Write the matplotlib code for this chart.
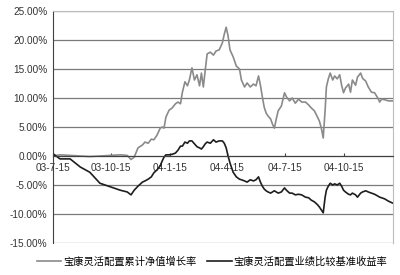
import matplotlib
matplotlib.use('Agg')
import matplotlib.pyplot as plt
import matplotlib.dates as mdates
import matplotlib.ticker as mticker
import pandas as pd

plt.rcParams['font.family'] = ['Liberation Sans', 'Noto Sans CJK SC']

dates = [
    '2003-07-15', '2003-07-26', '2003-08-11', '2003-08-27', '2003-09-11', '2003-09-27',
    '2003-10-13', '2003-10-29', '2003-11-09', '2003-11-15', '2003-11-20', '2003-11-26',
    '2003-12-03', '2003-12-07', '2003-12-12', '2003-12-17', '2003-12-21', '2003-12-26',
    '2003-12-31', '2004-01-03', '2004-01-06', '2004-01-09', '2004-01-14', '2004-01-19',
    '2004-01-24', '2004-01-28', '2004-02-01', '2004-02-04', '2004-02-08', '2004-02-12',
    '2004-02-15', '2004-02-19', '2004-02-23', '2004-02-27', '2004-03-02', '2004-03-05',
    '2004-03-08', '2004-03-11', '2004-03-14', '2004-03-19', '2004-03-24', '2004-03-28',
    '2004-04-02', '2004-04-07', '2004-04-10', '2004-04-13', '2004-04-16', '2004-04-19',
    '2004-04-24', '2004-04-29', '2004-05-04', '2004-05-07', '2004-05-12', '2004-05-16',
    '2004-05-21', '2004-05-26', '2004-05-30', '2004-06-03', '2004-06-06', '2004-06-09',
    '2004-06-12', '2004-06-15', '2004-06-18', '2004-06-22', '2004-06-25', '2004-06-28',
    '2004-07-01', '2004-07-04', '2004-07-09', '2004-07-14', '2004-07-17', '2004-07-22',
    '2004-07-26', '2004-07-31', '2004-08-05', '2004-08-10', '2004-08-16', '2004-08-21',
    '2004-08-25', '2004-08-30', '2004-09-04', '2004-09-07', '2004-09-10', '2004-09-13',
    '2004-09-16', '2004-09-18', '2004-09-21', '2004-09-24', '2004-09-28', '2004-10-01',
    '2004-10-05', '2004-10-09', '2004-10-12', '2004-10-15', '2004-10-18', '2004-10-23',
    '2004-10-26', '2004-10-29', '2004-11-03', '2004-11-06', '2004-11-11', '2004-11-14',
    '2004-11-19', '2004-11-23', '2004-11-28', '2004-12-03', '2004-12-08', '2004-12-11',
    '2004-12-14', '2004-12-19', '2004-12-25', '2004-12-31',
]

# 宝康灵活配置累计净值增长率 (%)
nav_growth = [
    0.0, 0.2, 0.1, 0.0, -0.1, 0.0,
    0.1, 0.2, 0.1, -0.6, -0.2, 1.4,
    1.9, 2.4, 2.2, 2.9, 2.8, 3.6,
    4.8, 5.0, 4.8, 6.7, 7.9, 8.3,
    9.0, 9.3, 9.0, 11.0, 12.8, 12.1,
    13.1, 15.2, 13.1, 14.0, 12.1, 14.3,
    11.9, 14.8, 17.6, 17.9, 17.4, 18.1,
    18.3, 19.5, 21.0, 22.2, 20.7, 18.3,
    17.1, 15.5, 15.0, 13.1, 11.9, 12.6,
    11.9, 12.4, 12.1, 13.8, 12.2, 10.2,
    8.4, 7.4, 6.9, 6.4, 5.5, 4.8,
    6.4, 7.8, 8.6, 10.9, 10.2, 9.5,
    10.0, 9.1, 9.8, 9.3, 9.3, 8.8,
    8.3, 7.8, 6.7, 6.0, 4.8, 3.1,
    7.9, 11.9, 13.3, 14.3, 13.1, 13.8,
    13.3, 14.0, 12.2, 10.9, 11.7, 12.4,
    11.0, 13.1, 12.2, 13.6, 14.3, 13.4,
    12.9, 11.9, 11.0, 10.9, 10.0, 9.3,
    9.8, 9.7, 9.5, 9.5,
]

# 宝康灵活配置业绩比较基准收益率 (%)
benchmark = [
    0.4, -0.5, -0.5, -1.9, -2.8, -4.7,
    -5.3, -5.9, -6.2, -6.7, -5.9, -5.2,
    -4.5, -4.3, -4.0, -3.6, -2.9, -2.4,
    -1.7, -0.9, -0.2, 0.2, 0.2, 0.3,
    0.5, 1.0, 1.7, 1.7, 2.4, 2.2,
    2.6, 2.6, 2.1, 1.6, 1.4, 1.2,
    1.6, 2.1, 2.4, 2.2, 2.8, 2.4,
    2.6, 2.6, 2.2, 1.4, 0.0, -1.2,
    -2.8, -3.6, -4.0, -4.1, -4.3, -4.5,
    -4.1, -4.3, -4.1, -3.6, -4.5, -5.2,
    -5.7, -6.0, -6.2, -6.4, -6.2, -6.0,
    -6.2, -6.4, -6.2, -5.5, -5.9, -6.4,
    -6.4, -6.7, -6.6, -6.7, -7.1, -7.2,
    -7.6, -7.9, -8.4, -8.8, -9.3, -9.8,
    -7.1, -5.9, -5.2, -4.7, -5.0, -4.8,
    -5.0, -4.7, -5.2, -5.9, -6.2, -6.6,
    -6.7, -6.4, -6.7, -7.1, -6.4, -6.2,
    -6.0, -6.2, -6.4, -6.6, -6.9, -7.1,
    -7.2, -7.4, -7.8, -8.1,
]

tick_dates = ['2003-07-15', '2003-10-15', '2004-01-15', '2004-04-15', '2004-07-15', '2004-10-15']
tick_labels = ['03-7-15', '03-10-15', '04-1-15', '04-4-15', '04-7-15', '04-10-15']
legend_labels = ['宝康灵活配置累计净值增长率', '宝康灵活配置业绩比较基准收益率']

x = pd.to_datetime(dates)

fig = plt.figure(figsize=(4.0, 2.75), dpi=100)
ax = fig.add_axes((0.1325, 0.1164, 0.85, 0.8436))

ax.set_ylim(-15, 25)
ax.set_xlim(pd.Timestamp('2003-07-15'), pd.Timestamp('2005-01-01'))
ax.set_yticks(range(-15, 26, 5))
ax.yaxis.set_major_formatter(mticker.FuncFormatter(lambda v, p: '%.2f%%' % v))
ax.grid(axis='y', color='#7a7a7a', linewidth=0.9)
ax.set_axisbelow(True)

l1, = ax.plot(x, nav_growth, color='#8a8a8a', linewidth=1.2)
l2, = ax.plot(x, benchmark, color='#1e1e1e', linewidth=1.2)

ax.spines['bottom'].set_position(('data', 0))
ax.spines['bottom'].set_color('#404040')
ax.spines['left'].set_color('#404040')
ax.spines['top'].set_color('#bdbdbd')
ax.spines['right'].set_color('#bdbdbd')

ax.set_xticks(pd.to_datetime(tick_dates))
ax.set_xticklabels(tick_labels)
ax.tick_params(axis='x', direction='in', length=2.5, color='#404040', labelsize=7.2,
               labelcolor='#333333', pad=5)
ax.tick_params(axis='y', length=0, labelsize=7.2, labelcolor='#333333', pad=4)

fig.legend([l1, l2], legend_labels, loc='center', bbox_to_anchor=(0.53, 0.05), ncol=2,
           frameon=False, fontsize=7.4, handlelength=2.4, handletextpad=0.2, columnspacing=1.0)

plt.savefig('out.png', dpi=100)
